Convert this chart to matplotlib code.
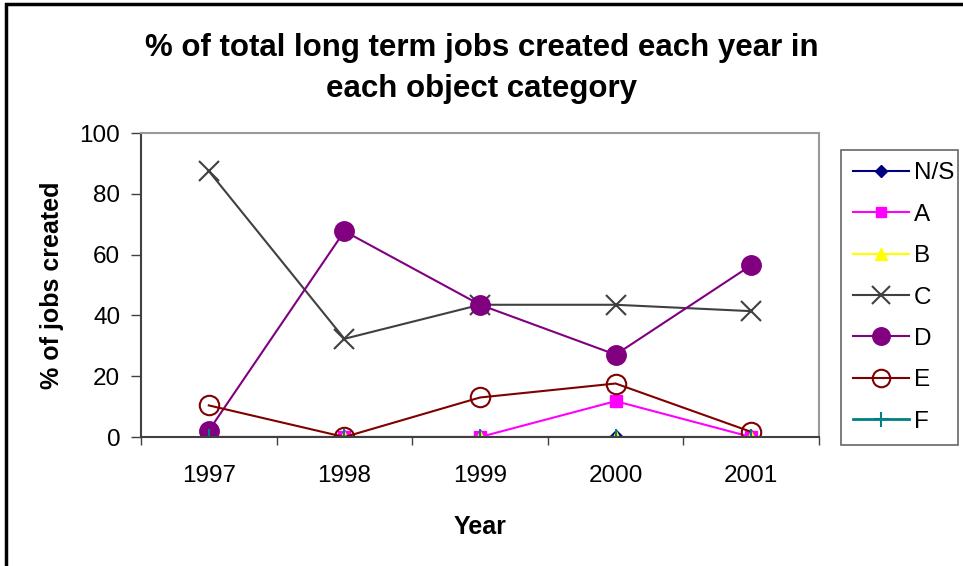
import matplotlib.pyplot as plt
from matplotlib.patches import Rectangle

plt.rcParams['font.family'] = ['Liberation Sans', 'DejaVu Sans']

# Years and share of long term jobs created per object category
years = ['1997', '1998', '1999', '2000', '2001']
ns = [0, 0, 0, 0, 0]
cat_a = [0, 0, 0, 11.8, 0]
cat_b = [0, 0, 0, 0, 0]
cat_c = [87.5, 32.3, 43.5, 43.5, 41.4]
cat_d = [2.1, 67.7, 43.5, 27.1, 56.5]
cat_e = [10.4, 0, 13.0, 17.6, 1.7]
cat_f = [0, 0, 0, 0, 0]

fig = plt.figure(figsize=(9.63, 5.66), dpi=100)
ax = fig.add_axes([0.1464, 0.2279, 0.7041, 0.5371])

x = range(len(years))

ax.plot(x, ns, color='#000080', marker='D', markersize=7, lw=1.5, label='N/S')
ax.plot(x, cat_a, color='#FF00FF', marker='s', markersize=8, lw=1.5, label='A')
ax.plot(x, cat_b, color='#FFFF00', marker='^', markersize=9, lw=1.5, label='B')
ax.plot(x, cat_c, color='#404040', marker='x', markersize=15, mew=1.5, lw=1.5, label='C')
ax.plot(x, cat_d, color='#800080', marker='o', markersize=14, lw=1.5, label='D')
ax.plot(x, cat_e, color='#800000', marker='o', markersize=14, mfc='none', mew=1.5, lw=1.5, label='E')
ax.plot(x, cat_f, color='#008080', marker='+', markersize=12, mew=1.5, lw=2, label='F')

ax.set_xlim(-0.5, 4.5)
ax.set_ylim(0, 100)
ax.set_yticks([0, 20, 40, 60, 80, 100])
ax.set_xticks(list(x))
ax.set_xticklabels(years)
ax.set_xticks([i - 0.5 for i in range(6)], minor=True)
ax.tick_params(axis='x', which='major', length=0, pad=20, labelsize=17.5)
ax.tick_params(axis='x', which='minor', length=6, width=1, color='#404040')
ax.tick_params(axis='y', length=7, width=1, labelsize=17.5, color='#404040', pad=8)

for side in ['left', 'bottom']:
    ax.spines[side].set_color('#404040')
    ax.spines[side].set_linewidth(1.5)
for side in ['top', 'right']:
    ax.spines[side].set_color('#999999')
    ax.spines[side].set_linewidth(1.5)

ax.set_xlabel('Year', fontsize=18, fontweight='bold', labelpad=20)
ax.set_ylabel('% of jobs created', fontsize=18, fontweight='bold', labelpad=11)

fig.text(0.5, 0.879, '% of total long term jobs created each year in\neach object category',
         ha='center', va='center', fontsize=22.5, fontweight='bold', linespacing=1.45)

handles, labels = ax.get_legend_handles_labels()
leg = fig.legend(handles, labels, loc='upper left',
                 bbox_to_anchor=(841 / 963, (566 - 445) / 566, 117 / 963, 295 / 566),
                 mode='expand', frameon=True, fancybox=False, markerscale=0.9,
                 fontsize=17.5, handlelength=2.3, handletextpad=0.2, labelspacing=0.8,
                 borderaxespad=0, borderpad=0.5)
leg.get_frame().set_edgecolor('#404040')
leg.get_frame().set_linewidth(1.2)

# Frame around the whole chart
fig.add_artist(Rectangle((0.0065, -0.05), 1.1, 1.043, transform=fig.transFigure,
                         fill=False, edgecolor='black', lw=2.5))

fig.savefig('out.png', dpi=100)
